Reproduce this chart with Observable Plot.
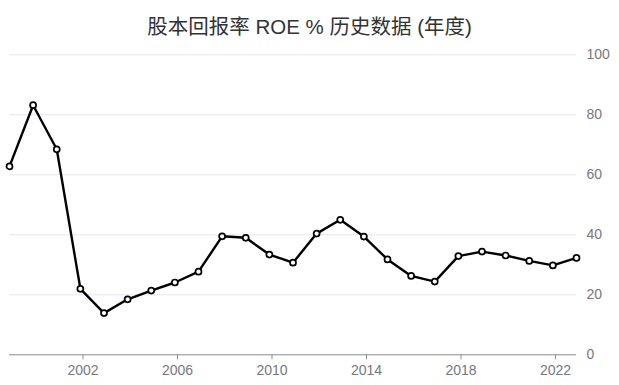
<!DOCTYPE html>
<html><head><meta charset="utf-8">
<script src="https://cdn.jsdelivr.net/npm/d3@7"></script>
<script src="https://cdn.jsdelivr.net/npm/@observablehq/plot@0.6"></script>
<style>
body{margin:0;background:#fff;font-family:"Liberation Sans","Noto Sans CJK SC",sans-serif;}
#title{height:45px;line-height:54px;text-align:center;font-size:20.5px;color:#333;white-space:nowrap;overflow:hidden;}
</style></head><body>
<div id="title">股本回报率 ROE % 历史数据 (年度)</div>
<div id="chart"></div>
<script>
const years = [1999,2000,2001,2002,2003,2004,2005,2006,2007,2008,2009,2010,2011,2012,2013,2014,2015,2016,2017,2018,2019,2020,2021,2022,2023];
const roe = [62.8,83.2,68.5,22.0,13.9,18.5,21.4,24.1,27.7,39.5,39.0,33.4,30.7,40.4,45.0,39.4,31.8,26.3,24.4,32.9,34.4,33.1,31.3,29.8,32.3];
const xTickYears = [2002,2006,2010,2014,2018,2022];
const yTicks = [0,20,40,60,80,100];
const data = years.map((y,i)=>({year:y, v:roe[i]}));
const chart = Plot.plot({
  width:619, height:340,
  marginTop:9.3, marginBottom:30.7, marginLeft:9, marginRight:43,
  style:{fontFamily:"'Liberation Sans','Noto Sans CJK SC',sans-serif", fontSize:"14px", color:"#77777f", background:"#fff"},
  x:{type:"linear", domain:[1999,2023]},
  y:{domain:[0,100]},
  marks:[
    Plot.gridY(yTicks.filter(d=>d>0), {stroke:"#e3e7f0", strokeOpacity:1, strokeWidth:1}),
    Plot.axisY(yTicks, {anchor:"right", tickSize:0, tickPadding:10, fill:"#77777f", fontSize:14, label:null}),
    Plot.ruleY([0], {stroke:"#8c8c8c", strokeWidth:1}),
    Plot.axisX(xTickYears.map(d=>d+0.11), {tickSize:5, stroke:"#8c8c8c", fill:"#77777f", fontSize:14, tickPadding:5, tickFormat:d=>String(Math.round(d)), label:null}),
    Plot.line(data, {x:"year", y:"v", stroke:"#000", strokeWidth:2.4}),
    Plot.dot(data, {x:"year", y:"v", r:3, fill:"#fff", stroke:"#000", strokeWidth:1.7})
  ]
});
document.getElementById("chart").appendChild(chart);
</script></body></html>
